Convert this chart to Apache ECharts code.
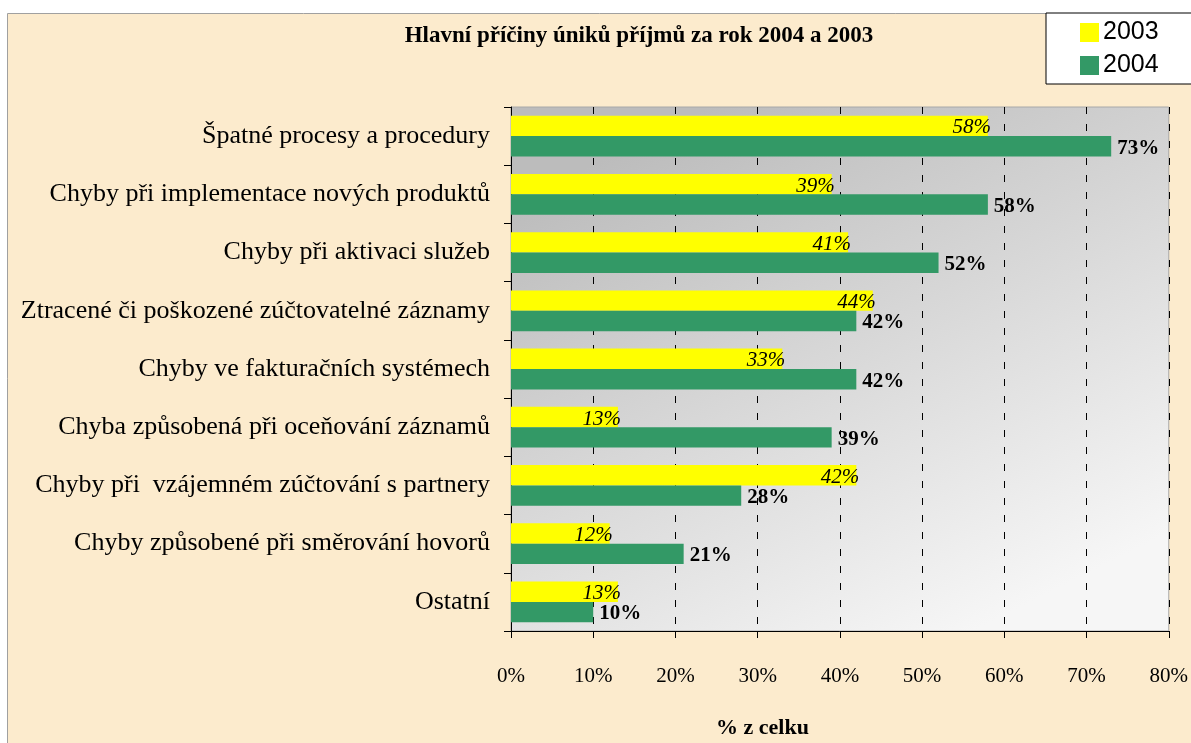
<!DOCTYPE html>
<html><head><meta charset="utf-8">
<script src="https://cdn.jsdelivr.net/npm/echarts@6/dist/echarts.min.js"></script>
<style>html,body{margin:0;padding:0;background:#fff}#c{width:1191px;height:743px}</style>
</head><body><div id="c"></div>
<script>
const categories = [
  'Špatné procesy a procedury',
  'Chyby při implementace nových produktů',
  'Chyby při aktivaci služeb',
  'Ztracené či poškozené zúčtovatelné záznamy',
  'Chyby ve fakturačních systémech',
  'Chyba způsobená při oceňování záznamů',
  'Chyby při  vzájemném zúčtování s partnery',
  'Chyby způsobené při směrování hovorů',
  'Ostatní'
];
const values2003 = [58, 39, 41, 44, 33, 13, 42, 12, 13];
const values2004 = [73, 58, 52, 42, 42, 39, 28, 21, 10];
const xTicks = [0, 10, 20, 30, 40, 50, 60, 70, 80];

const serif = '"Liberation Serif", "Times New Roman", serif';
const sans = '"Liberation Sans", Arial, sans-serif';
const chart = echarts.init(document.getElementById('c'));
chart.setOption({
  backgroundColor: '#ffffff',
  animation: false,
  graphic: [{
    type: 'rect', z: -10, silent: true,
    shape: { x: 7.5, y: 13.5, width: 1200, height: 800 },
    style: { fill: '#fcebcd', stroke: '#a0a0a0', lineWidth: 1 }
  }, {
    type: 'text', left: 716, top: 717,
    style: { text: '% z celku', font: 'bold 22px ' + serif, fill: '#000' }
  }],
  title: {
    text: 'Hlavní příčiny úniků příjmů za rok 2004 a 2003',
    left: 634, top: 20, textAlign: 'center',
    textStyle: { fontFamily: serif, fontWeight: 'bold', fontSize: 23, color: '#000' }
  },
  legend: {
    orient: 'vertical', left: 1046, top: 13,
    backgroundColor: '#fff', borderColor: '#000', borderWidth: 1,
    padding: [7, 40, 6, 34], itemGap: 8, itemWidth: 19, itemHeight: 19,
    icon: 'rect',
    textStyle: { fontFamily: sans, fontSize: 25, color: '#000', padding: [0, 0, 0, -1] },
    data: ['2003', '2004']
  },
  grid: {
    left: 511, top: 107, width: 660, height: 524,
    show: true,
    backgroundColor: new echarts.graphic.LinearGradient(0.3, 0, 0.7, 1, [
      { offset: 0, color: '#bcbcbc' }, { offset: 1, color: '#f6f6f6' }
    ]),
    borderColor: '#a8a8a8', borderWidth: 1
  },
  xAxis: {
    type: 'value', min: 0, max: 80, interval: 10,
    axisLine: { show: true, lineStyle: { color: '#000' } },
    axisTick: { show: true, length: 7, lineStyle: { color: '#000' } },
    axisLabel: { margin: 35, fontFamily: serif, fontSize: 21, color: '#000',
      formatter: v => xTicks.includes(v) ? v + '%' : '' },
    splitLine: { show: true, lineStyle: { color: '#000', type: [7, 10], width: 1 } }
  },
  yAxis: {
    type: 'category', inverse: true, data: categories,
    axisLine: { show: true, lineStyle: { color: '#000' } },
    axisTick: { show: true, length: 7, lineStyle: { color: '#000' } },
    axisLabel: { margin: 21, fontFamily: serif, fontSize: 26, color: '#000' }
  },
  series: [{
    name: '2003', type: 'bar', data: values2003,
    barGap: '0%', barCategoryGap: '30%',
    itemStyle: { color: '#ffff00' },
    label: { show: true, position: 'insideRight', distance: -3, offset: [0, 2],
      formatter: p => p.value + '%',
      fontFamily: serif, fontStyle: 'italic', fontSize: 21, color: '#000' }
  }, {
    name: '2004', type: 'bar', data: values2004,
    itemStyle: { color: '#339966' },
    label: { show: true, position: 'right', distance: 6, offset: [0, 2],
      formatter: p => p.value + '%',
      fontFamily: serif, fontWeight: 'bold', fontSize: 21, color: '#000' }
  }]
});
</script></body></html>
